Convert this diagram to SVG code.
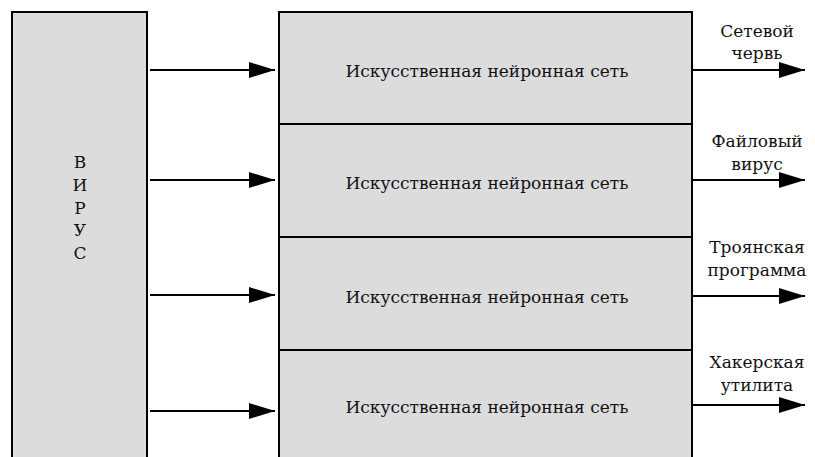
<svg xmlns="http://www.w3.org/2000/svg" width="815" height="457" viewBox="0 0 815 457">
<defs>
<marker id="ah" markerWidth="26" markerHeight="16" refX="26" refY="8" orient="auto" markerUnits="userSpaceOnUse">
<path d="M0,0 L26,8 L0,16 Z" fill="#000"/>
</marker>
<style>
.box{fill:#dcdcdc;stroke:#000;stroke-width:2}
.t{font-family:"DejaVu Serif","Liberation Serif",serif;font-size:17px;fill:#111;text-anchor:middle}
.c{stroke:#000;stroke-width:2;fill:none;marker-end:url(#ah)}
</style>
</defs>
<rect width="815" height="457" fill="#fff"/>
<g id="virus">
<rect class="box" x="12" y="12" width="135" height="460"/>
<text class="t" x="80" y="168">В</text>
<text class="t" x="80" y="191">И</text>
<text class="t" x="80" y="214">Р</text>
<text class="t" x="80" y="236">У</text>
<text class="t" x="80" y="259">С</text>
</g>
<g id="nn1">
<rect class="box" x="279" y="12" width="413" height="112"/>
<text class="t" x="487" y="77">Искусственная нейронная сеть</text>
</g>
<g id="nn2">
<rect class="box" x="279" y="124" width="413" height="113"/>
<text class="t" x="487" y="189">Искусственная нейронная сеть</text>
</g>
<g id="nn3">
<rect class="box" x="279" y="237" width="413" height="113"/>
<text class="t" x="487" y="303">Искусственная нейронная сеть</text>
</g>
<g id="nn4">
<rect class="box" x="279" y="350" width="413" height="120"/>
<text class="t" x="487" y="413">Искусственная нейронная сеть</text>
</g>
<g id="out-labels">
<text class="t" x="757" y="37">Сетевой</text>
<text class="t" x="757" y="59">червь</text>
<text class="t" x="757" y="147">Файловый</text>
<text class="t" x="757" y="170">вирус</text>
<text class="t" x="757" y="253">Троянская</text>
<text class="t" x="757" y="276">программа</text>
<text class="t" x="757" y="368">Хакерская</text>
<text class="t" x="757" y="391">утилита</text>
</g>
<g id="connectors">
<line class="c" x1="150" y1="70" x2="275" y2="70"/>
<line class="c" x1="150" y1="180" x2="275" y2="180"/>
<line class="c" x1="150" y1="295" x2="275" y2="295"/>
<line class="c" x1="150" y1="411" x2="275" y2="411"/>
<line class="c" x1="692" y1="70" x2="805" y2="70"/>
<line class="c" x1="692" y1="180" x2="805" y2="180"/>
<line class="c" x1="692" y1="296" x2="805" y2="296"/>
<line class="c" x1="692" y1="405" x2="805" y2="405"/>
</g>
</svg>
